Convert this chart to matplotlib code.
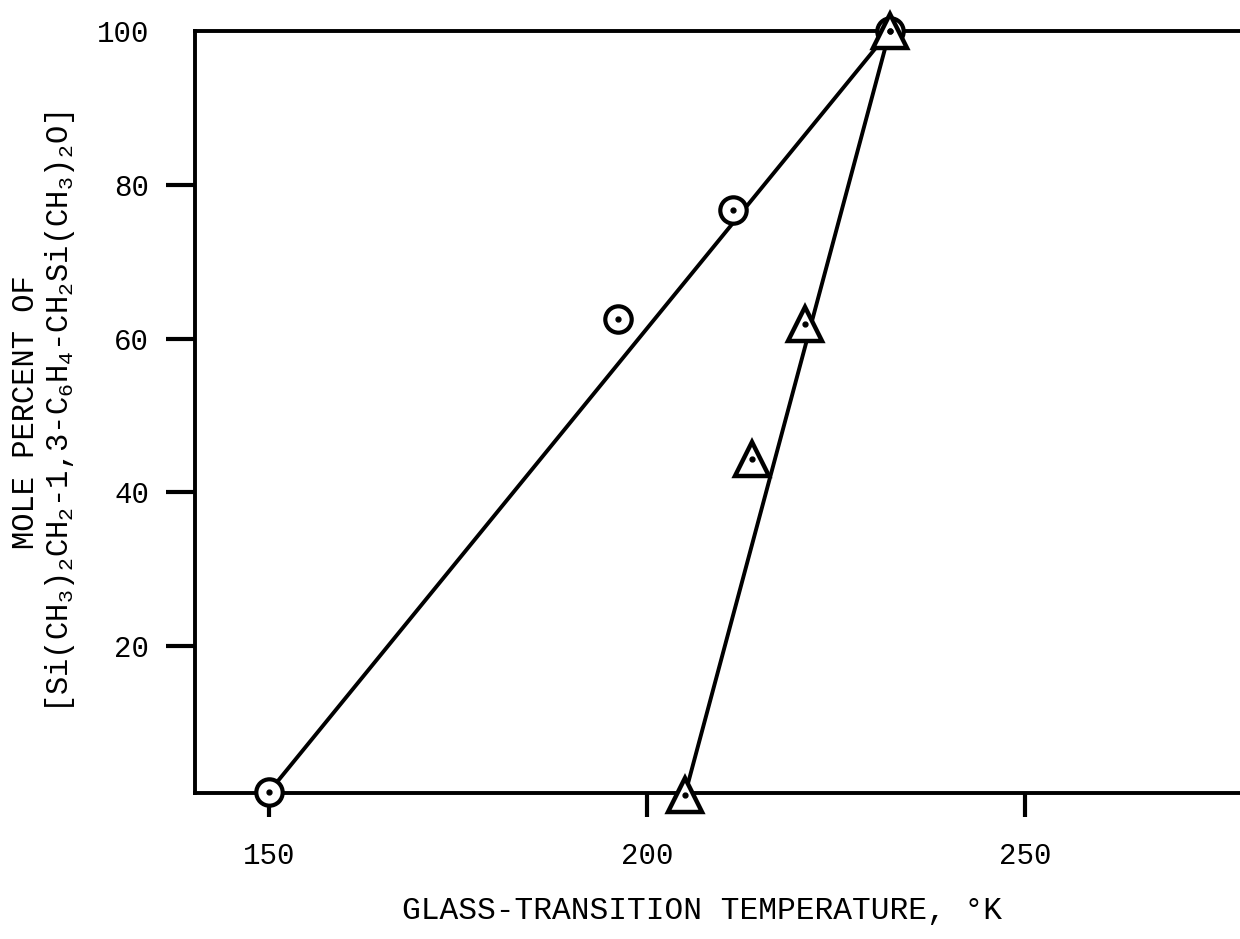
import matplotlib
matplotlib.use("Agg")
import matplotlib.pyplot as plt

circle_x = [150.0, 196.2, 211.4, 232.1]
circle_y = [1.1, 62.6, 76.7, 100.0]
tri_x = [205.0, 213.9, 220.9, 232.1]
tri_y = [0.7, 44.3, 61.9, 100.0]

x_ticks = [150, 200, 250]
y_ticks = [20, 40, 60, 80, 100]

plt.rcParams['font.family'] = ['Liberation Mono', 'DejaVu Sans Mono']
plt.rcParams['mathtext.fontset'] = 'custom'
plt.rcParams['mathtext.rm'] = 'Liberation Mono'
plt.rcParams['mathtext.it'] = 'Liberation Mono'

W, H = 1240, 939
fig = plt.figure(figsize=(W / 100, H / 100), dpi=100)
ax = fig.add_axes([195 / W, (H - 793.3) / H, 1057 / W, (793.3 - 30.7) / H])

# straight lines through the end points of each series
ax.plot([circle_x[0], circle_x[-1]], [circle_y[0], circle_y[-1]],
        color='black', lw=2.8, zorder=2)
ax.plot([tri_x[0], tri_x[-1]], [tri_y[0], tri_y[-1]],
        color='black', lw=2.8, zorder=2)

ax.plot(circle_x, circle_y, ls='none', marker='o', ms=19, mfc='white',
        mec='black', mew=3.0, zorder=3, clip_on=False)
ax.plot(tri_x, tri_y, ls='none', marker='^', ms=24, mfc='white',
        mec='black', mew=3.2, zorder=3, clip_on=False)
ax.plot(circle_x + tri_x, circle_y + tri_y, ls='none', marker='o', ms=3.5,
        color='black', zorder=4, clip_on=False)

ax.set_xlim(140.2, 280)
ax.set_ylim(0.9, 100)
ax.set_xticks(x_ticks)
ax.set_yticks(y_ticks)
ax.yaxis.get_major_ticks()[-1].tick1line.set_visible(False)

for side in ['left', 'bottom', 'top']:
    ax.spines[side].set_linewidth(2.8)
ax.spines['right'].set_visible(False)

ax.tick_params(axis='x', direction='out', length=17, width=3, pad=18,
               labelsize=21)
ax.tick_params(axis='y', direction='out', length=21, width=3, pad=12,
               labelsize=21)

fig.text(702 / W, (H - 911) / H, 'GLASS-TRANSITION TEMPERATURE, °K',
         ha='center', va='center', fontsize=22.5)
fig.text(44 / W, (H - 412) / H,
         'MOLE PERCENT OF\n'
         '[Si(CH$_3$)$_2$CH$_2$-1,3-C$_6$H$_4$-CH$_2$Si(CH$_3$)$_2$O]',
         rotation=90, ha='center', va='center', multialignment='center',
         fontsize=22, linespacing=1.05)

fig.savefig('out.png', dpi=100)
